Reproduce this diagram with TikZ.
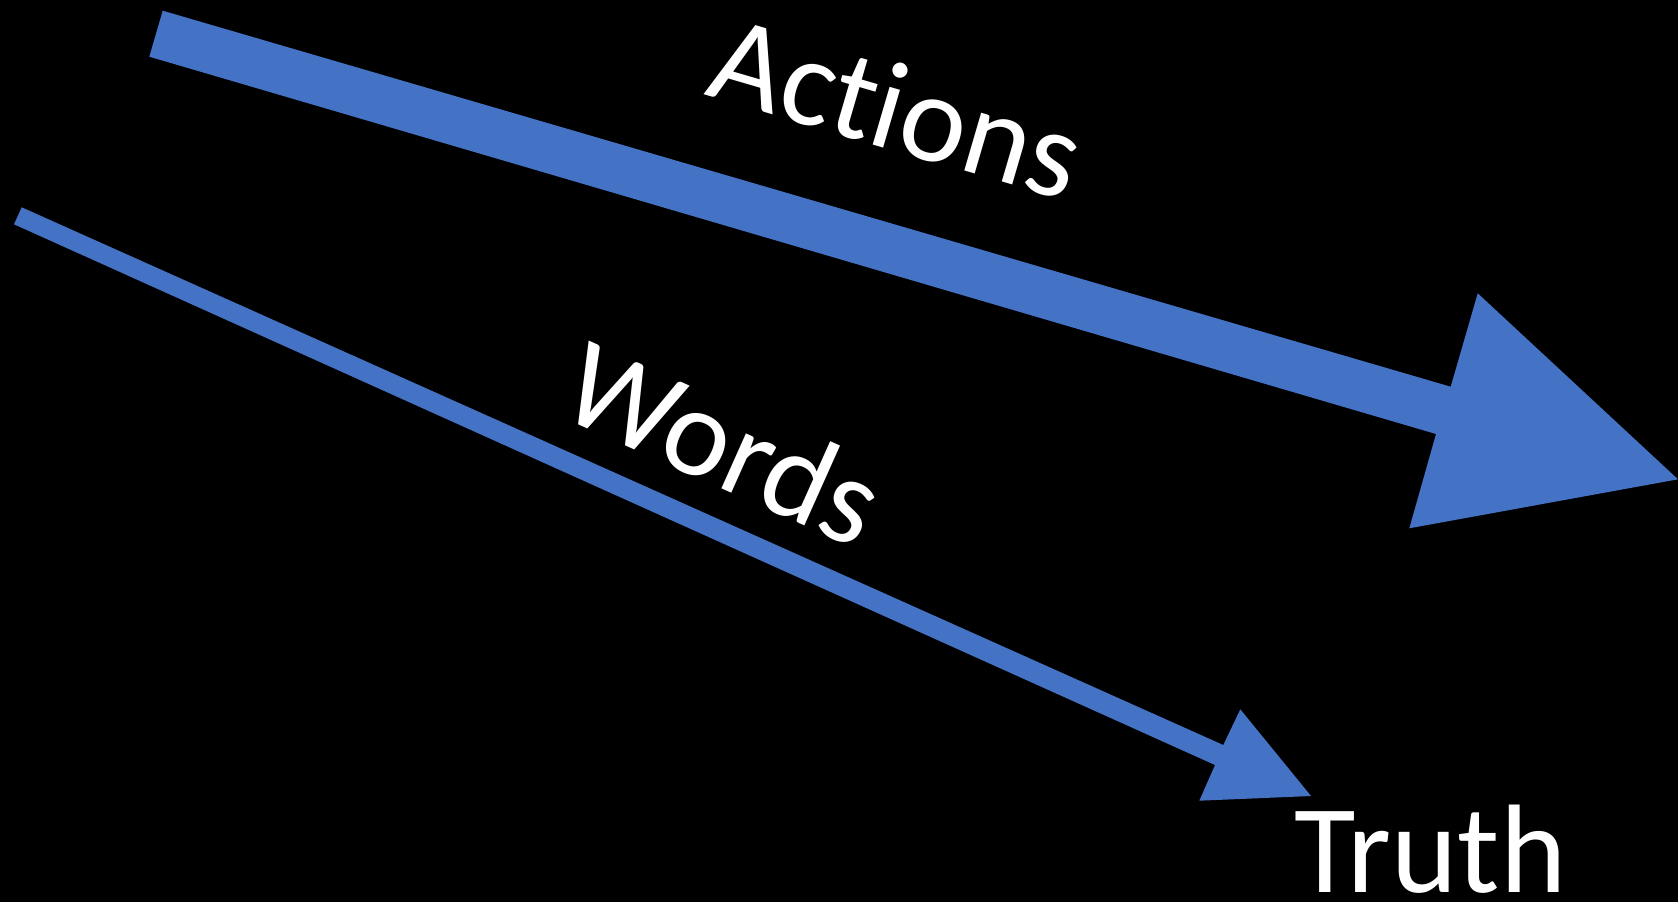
\documentclass[tikz,border=0pt]{standalone}
\usepackage{fontspec}
\setmainfont[RawFeature=-liga]{Carlito}
\definecolor{arrowblue}{HTML}{4472C4}
\begin{document}
\begin{tikzpicture}[x=1pt,y=-1pt,
  arrowshape/.style={fill=arrowblue,draw=none},
  label/.style={text=white,inner sep=0pt,font=\fontsize{126}{150}\selectfont}]
\useasboundingbox (0,0) rectangle (1678,902);
\fill[black] (0,0) rectangle (1678,902);
% Actions arrow
\coordinate (a1) at (162.7,10.7);
\coordinate (a2) at (1450.7,386.7);
\coordinate (a3) at (1477.7,293.3);
\coordinate (atip) at (1678,479.3);
\coordinate (a4) at (1409.3,528.3);
\coordinate (a5) at (1436,434);
\coordinate (a6) at (149.3,56.7);
\fill[arrowshape] (a1) -- (a2) -- (a3) -- (atip) -- (a4) -- (a5) -- (a6) -- cycle;
% Words arrow
\coordinate (w1) at (21.7,207.3);
\coordinate (w2) at (1223.3,745);
\coordinate (w3) at (1240.3,709.3);
\coordinate (wtip) at (1311,796);
\coordinate (w4) at (1199.3,800.7);
\coordinate (w5) at (1215,765);
\coordinate (w6) at (14,224.3);
\fill[arrowshape] (w1) -- (w2) -- (w3) -- (wtip) -- (w4) -- (w5) -- (w6) -- cycle;
% labels
\node[label,anchor=base,rotate=-16.3] (actions) at (885,148) {Actions};
\node[label,anchor=base,rotate=-24.1] (words) at (706.8,482.4) {Words};
\node[label,anchor=base west] (truth) at (1294,892.7) {Truth};
\end{tikzpicture}
\end{document}
